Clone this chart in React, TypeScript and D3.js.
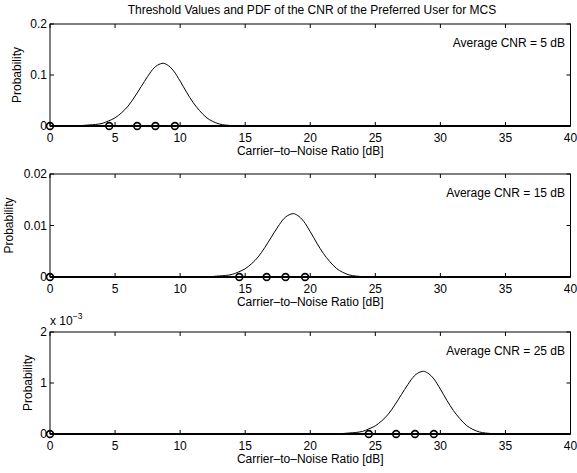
import React from "react";
import * as d3 from "d3";

const W = 577;
const H = 473;

const titleText = "Threshold Values and PDF of the CNR of the Preferred User for MCS";
const xLabelText = "Carrier\u2013to\u2013Noise Ratio [dB]";
const yLabelText = "Probability";
const xTicks = [0, 5, 10, 15, 20, 25, 30, 35, 40];

const avgLabels = ["Average CNR = 5 dB", "Average CNR = 15 dB", "Average CNR = 25 dB"];
const yMax = [0.2, 0.02, 2];
const yTickValues = [[0, 0.1, 0.2], [0, 0.01, 0.02], [0, 1, 2]];
const yTickLabels = [["0", "0.1", "0.2"], ["0", "0.01", "0.02"], ["0", "1", "2"]];

const pdfX5 = [0, 2, 3, 4, 4.5, 5, 5.5, 6, 6.5, 7, 7.5, 8, 8.5, 8.7, 9, 9.5, 10, 10.5, 11, 11.5, 12, 12.5, 13, 13.5, 14, 14.5, 15, 40];
const pdfY5 = [0, 0.0005, 0.002, 0.005, 0.010, 0.016, 0.026, 0.039, 0.057, 0.077, 0.097, 0.114, 0.122, 0.123, 0.120, 0.108, 0.088, 0.066, 0.046, 0.030, 0.017, 0.009, 0.004, 0.0018, 0.0007, 0.0002, 0, 0];

const pdfX15 = [0, 12, 13, 14, 14.5, 15, 15.5, 16, 16.5, 17, 17.5, 18, 18.5, 18.7, 19, 19.5, 20, 20.5, 21, 21.5, 22, 22.5, 23, 23.5, 24, 24.5, 25, 40];
const pdfY15 = [0, 0.00005, 0.0002, 0.0005, 0.0010, 0.0016, 0.0026, 0.0039, 0.0057, 0.0077, 0.0097, 0.0114, 0.0122, 0.0123, 0.0120, 0.0108, 0.0088, 0.0066, 0.0046, 0.0030, 0.0017, 0.0009, 0.0004, 0.00018, 0.00007, 0.00002, 0, 0];

// third panel in units of 1e-3
const pdfX25 = [0, 22, 23, 24, 24.5, 25, 25.5, 26, 26.5, 27, 27.5, 28, 28.5, 28.7, 29, 29.5, 30, 30.5, 31, 31.5, 32, 32.5, 33, 33.5, 34, 34.5, 35, 40];
const pdfY25 = [0, 0.005, 0.02, 0.05, 0.10, 0.16, 0.26, 0.39, 0.57, 0.77, 0.97, 1.14, 1.22, 1.23, 1.20, 1.08, 0.88, 0.66, 0.46, 0.30, 0.17, 0.09, 0.04, 0.018, 0.007, 0.002, 0, 0];

const thresholds5 = [0, 4.55, 6.7, 8.1, 9.6];
const thresholds15 = [0, 14.55, 16.65, 18.1, 19.6];
const thresholds25 = [0, 24.5, 26.6, 28.05, 29.5];

const panelsX = [pdfX5, pdfX15, pdfX25];
const panelsY = [pdfY5, pdfY15, pdfY25];
const panelsTh = [thresholds5, thresholds15, thresholds25];

const LEFT = 50;
const RIGHT = 570.5;
const TOPS = [24, 174, 332];
const BOTTOMS = [126, 277, 434];
const FONT = "'Liberation Sans', Arial, Helvetica, sans-serif";
const FS = 12;

function Panel({ i }: { i: number }) {
  const top = TOPS[i];
  const bottom = BOTTOMS[i];
  const x = d3.scaleLinear().domain([0, 40]).range([LEFT, RIGHT]);
  const y = d3.scaleLinear().domain([0, yMax[i]]).range([bottom, top]);
  const pts = panelsX[i].map((v, k) => [v, panelsY[i][k]] as [number, number]);
  const line = d3
    .line<[number, number]>()
    .x((d) => x(d[0]))
    .y((d) => y(d[1]))
    .curve(d3.curveMonotoneX);
  const tl = 4;
  const yLabelX = i === 0 ? 17 : i === 1 ? 9 : 28;
  const midY = (top + bottom) / 2;
  return (
    <g>
      <rect x={LEFT} y={top} width={RIGHT - LEFT} height={bottom - top} fill="none" stroke="#000" strokeWidth={1} />
      {xTicks.map((t) => (
        <g key={"xt" + t}>
          <line x1={x(t)} x2={x(t)} y1={bottom} y2={bottom - tl} stroke="#000" />
          <line x1={x(t)} x2={x(t)} y1={top} y2={top + tl} stroke="#000" />
          <text x={x(t)} y={bottom + 16} textAnchor="middle" fontFamily={FONT} fontSize={FS}>
            {t}
          </text>
        </g>
      ))}
      {yTickValues[i].map((t, k) => (
        <g key={"yt" + k}>
          <line x1={LEFT} x2={LEFT + tl} y1={y(t)} y2={y(t)} stroke="#000" />
          <line x1={RIGHT} x2={RIGHT - tl} y1={y(t)} y2={y(t)} stroke="#000" />
          <text x={LEFT - 3} y={y(t) + 4} textAnchor="end" fontFamily={FONT} fontSize={FS}>
            {yTickLabels[i][k]}
          </text>
        </g>
      ))}
      {i === 2 && (
        <text x={LEFT} y={top - 7} fontFamily={FONT} fontSize={FS}>
          x 10
          <tspan dy={-6} fontSize={8.5}>
            −3
          </tspan>
        </text>
      )}
      <path d={line(pts) || ""} fill="none" stroke="#000" strokeWidth={1} />
      <line x1={x(0)} x2={x(40)} y1={y(0)} y2={y(0)} stroke="#000" strokeWidth={2} />
      {panelsTh[i].map((t, k) => (
        <circle key={"c" + k} cx={x(t)} cy={y(0)} r={3.4} fill="none" stroke="#000" strokeWidth={1.6} />
      ))}
      <text x={565} y={top + 23} textAnchor="end" fontFamily={FONT} fontSize={FS}>
        {avgLabels[i]}
      </text>
      <text x={(LEFT + RIGHT) / 2} y={bottom + 29} textAnchor="middle" fontFamily={FONT} fontSize={FS}>
        {xLabelText}
      </text>
      <text
        transform={`translate(${yLabelX + 4},${midY}) rotate(-90)`}
        textAnchor="middle"
        fontFamily={FONT}
        fontSize={FS}
      >
        {yLabelText}
      </text>
    </g>
  );
}

export default function App() {
  return (
    <svg width={W} height={H} style={{ position: "absolute", left: 0, top: 0, background: "#fff" }}>
      <rect width={W} height={H} fill="#fff" />
      <text x={312} y={14} textAnchor="middle" fontFamily={FONT} fontSize={FS}>
        {titleText}
      </text>
      {[0, 1, 2].map((i) => (
        <Panel key={i} i={i} />
      ))}
    </svg>
  );
}
